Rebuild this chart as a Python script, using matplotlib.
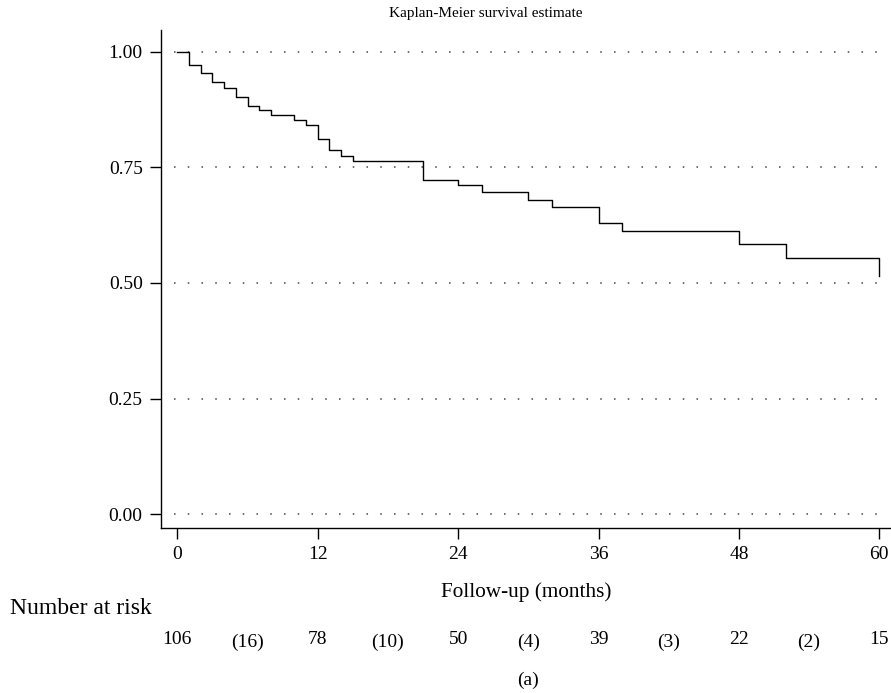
import matplotlib.pyplot as plt

plt.rcParams['font.family'] = ['Liberation Serif', 'DejaVu Serif']

# step times (months) and survival estimate
times = [0, 1, 2, 3, 4, 5, 6, 7, 8, 10, 11, 12, 13, 14, 15, 21, 24, 26, 30, 32, 36, 38, 48, 52, 60]
surv = [1.0, 0.972, 0.954, 0.934, 0.923, 0.903, 0.883, 0.874, 0.863, 0.853, 0.842, 0.811,
        0.788, 0.775, 0.765, 0.7235, 0.711, 0.696, 0.680, 0.664, 0.630, 0.612, 0.585, 0.554, 0.515]

risk_times = [0, 12, 24, 36, 48, 60]
at_risk = [106, 78, 50, 39, 22, 15]
cens_times = [6, 18, 30, 42, 54]
censored = [16, 10, 4, 3, 2]

y_ticks = [0.0, 0.25, 0.5, 0.75, 1.0]
x_ticks = [0, 12, 24, 36, 48, 60]


def main():
    fig = plt.figure(figsize=(8.91, 6.93), dpi=100)
    ax = fig.add_axes([0.1804, 0.2385, 0.8196, 0.7182])

    ax.set_xlim(-1.42, 61.0)
    ax.set_ylim(-0.0296, 1.0475)

    for yv in y_ticks:
        ax.plot([-0.3, 60.2], [yv, yv], color='#444444', lw=1.1,
                linestyle=(0, (1, 8)), zorder=1)

    ax.step(times, surv, where='post', color='black', lw=1.0, zorder=3)

    for s in ['top', 'right']:
        ax.spines[s].set_visible(False)
    ax.spines['left'].set_linewidth(1.0)
    ax.spines['bottom'].set_linewidth(1.0)

    ax.set_yticks(y_ticks)
    ax.set_yticklabels(['0.00', '0.25', '0.50', '0.75', '1.00'])
    ax.set_xticks(x_ticks)
    ax.tick_params(axis='both', direction='out', length=8, width=1.0,
                   labelsize=14, pad=5)

    ax.set_xlabel('Follow-up (months)', fontsize=15.3, labelpad=14)

    fig.text(486 / 891, 1 - 14 / 693, 'Kaplan-Meier survival estimate',
             ha='center', va='center', fontsize=11)
    fig.text(10 / 891, 1 - 609 / 693, 'Number at risk', ha='left', va='center',
             fontsize=17)

    row_y = 1 - 640 / 693
    for t, n in zip(risk_times, at_risk):
        xf = ax.transData.transform((t, 0))[0] / fig.bbox.width
        fig.text(xf, row_y, str(n), ha='center', va='center', fontsize=14)
    for t, c in zip(cens_times, censored):
        xf = ax.transData.transform((t, 0))[0] / fig.bbox.width
        fig.text(xf, row_y - 0.004, f'({c})', ha='center', va='center', fontsize=14)

    fig.text(528 / 891, 1 - 680 / 693, '(a)', ha='center', va='center', fontsize=14)

    fig.savefig('out.png', dpi=100)


if __name__ == '__main__':
    main()
